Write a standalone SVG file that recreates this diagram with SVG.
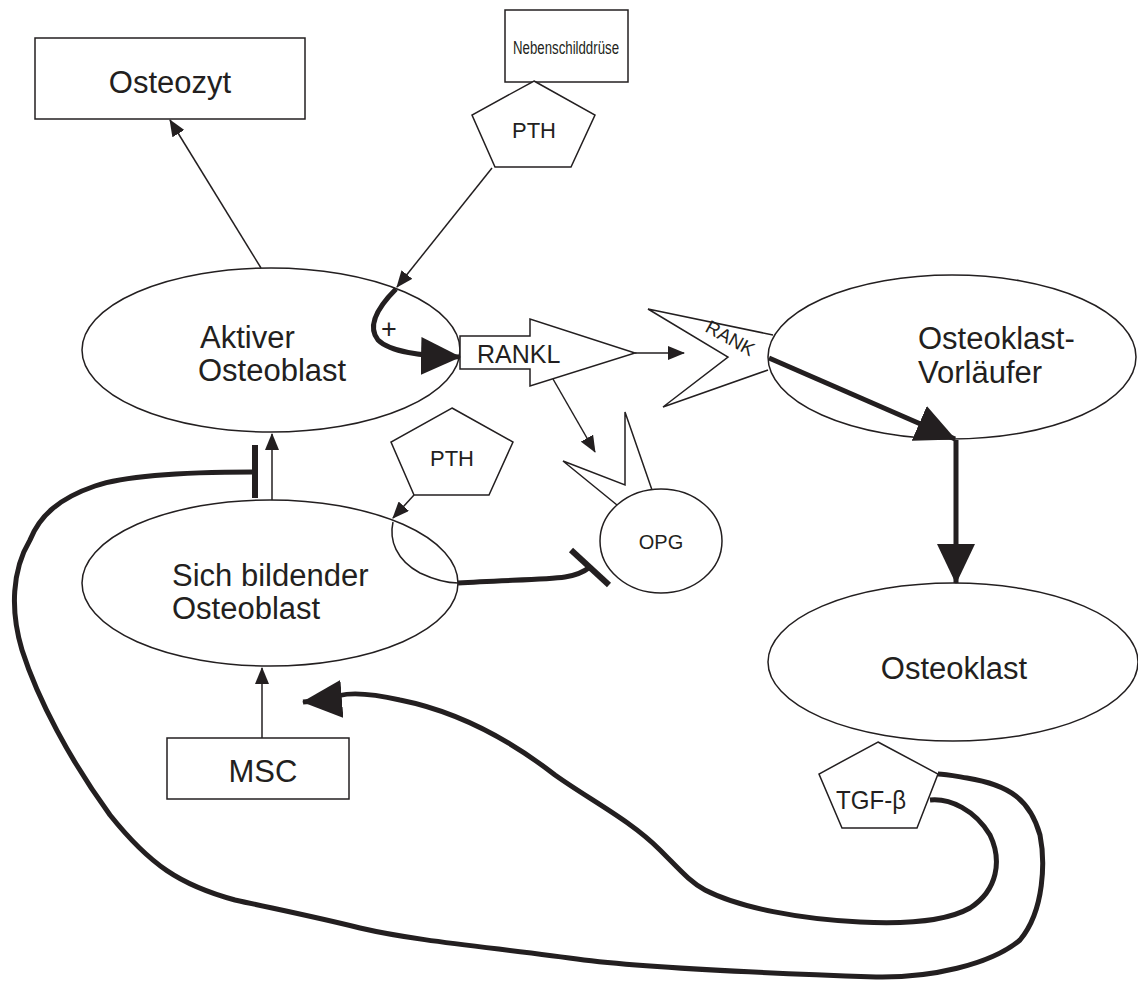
<svg xmlns="http://www.w3.org/2000/svg" width="1138" height="981" viewBox="0 0 1138 981">
<style>
.s{fill:#fff;stroke:#231f20;stroke-width:1.5}
.o{fill:none;stroke:#231f20;stroke-width:1.5}
.t{fill:#231f20;font-family:"Liberation Sans",Arial,sans-serif}
.thin{fill:none;stroke:#231f20;stroke-width:1.5}
.thick{fill:none;stroke:#231f20;stroke-width:5;stroke-linecap:butt}
.bar{stroke:#231f20;stroke-width:6}
</style>
<defs>
<marker id="a" markerUnits="userSpaceOnUse" markerWidth="17" markerHeight="14" refX="16" refY="7" orient="auto"><path d="M0,0 L17,7 L0,14 z" fill="#231f20"/></marker>
<marker id="b" markerUnits="userSpaceOnUse" markerWidth="40" markerHeight="38" refX="39" refY="19" orient="auto"><path d="M0,0 L40,19 L0,38 z" fill="#231f20"/></marker>
</defs>

<g id="osteozyt"><rect class="s" x="35" y="38" width="270" height="81"/><text class="t" x="170" y="93" font-size="31" text-anchor="middle">Osteozyt</text></g>
<g id="nebenschilddruese"><rect class="s" x="505" y="10" width="123" height="72"/><text class="t" x="513" y="54" font-size="18" textLength="106" lengthAdjust="spacingAndGlyphs">Nebenschilddrüse</text></g>
<g id="pth1"><polygon class="s" points="534,81 595,115 571,167 495,167 472,115"/><text class="t" x="534" y="138" font-size="22" text-anchor="middle">PTH</text></g>
<g id="aktiver"><ellipse class="s" cx="271" cy="350" rx="189" ry="82"/><text class="t" font-size="31"><tspan x="200" y="348">Aktiver</tspan><tspan x="198" y="381">Osteoblast</tspan></text></g>
<g id="sich"><ellipse class="s" cx="270" cy="583" rx="188" ry="83"/><path class="o" d="M393,522 C389,540 396,560 420,573 C435,580 448,583 458,583"/><text class="t" font-size="31"><tspan x="172" y="586">Sich bildender</tspan><tspan x="172" y="619">Osteoblast</tspan></text></g>
<g id="pth2"><polygon class="s" points="452,408 513,442 489,495 414,495 391,442"/><text class="t" x="452" y="466" font-size="22" text-anchor="middle">PTH</text></g>
<g id="rankl"><polygon class="s" points="460,336 530,336 530,319 635,353 530,386 530,369 460,369"/><text class="t" x="477" y="363" font-size="25">RANKL</text></g>
<g id="opg"><polyline class="o" points="617,505 563,461 625,485 625,412 652,490"/><ellipse class="s" cx="661" cy="541" rx="61" ry="52"/><text class="t" x="661" y="549" font-size="20" text-anchor="middle">OPG</text></g>
<g id="vorlaeufer"><ellipse class="s" cx="952" cy="357" rx="184" ry="82"/><text class="t" font-size="31"><tspan x="918" y="349">Osteoklast-</tspan><tspan x="918" y="383">Vorläufer</tspan></text></g>
<g id="rank"><polyline class="o" points="773,335 648,309 728,357 663,407 768,370"/><text class="t" font-size="19" transform="translate(704,331) rotate(29)">RANK</text></g>
<g id="osteoklast"><ellipse class="s" cx="953" cy="662" rx="185" ry="79"/><text class="t" x="954" y="679" font-size="31" text-anchor="middle">Osteoklast</text></g>
<g id="msc"><rect class="s" x="167" y="738" width="182" height="61"/><text class="t" x="263" y="782" font-size="31" text-anchor="middle">MSC</text></g>
<g id="tgf"><polygon class="s" points="878,742 938,774 917,828 842,828 819,774"/><text class="t" x="836" y="809" font-size="26" textLength="70" lengthAdjust="spacingAndGlyphs">TGF-β</text></g>

<g id="connectors">
<line class="thin" x1="261" y1="268" x2="170" y2="120" marker-end="url(#a)"/>
<line class="thin" x1="492" y1="168" x2="397" y2="287" marker-end="url(#a)"/>
<path class="thick" d="M396,289 C380,305 366,325 378,340 C390,352 420,356 460,357" marker-end="url(#b)"/>
<text class="t" x="389" y="338" font-size="27" text-anchor="middle">+</text>
<line class="thin" x1="635" y1="353" x2="684" y2="353" marker-end="url(#a)"/>
<line class="thin" x1="553" y1="379" x2="595" y2="452" marker-end="url(#a)"/>
<line class="thick" x1="769" y1="358" x2="955" y2="439" marker-end="url(#b)"/>
<line class="thick" x1="956" y1="440" x2="956" y2="583" marker-end="url(#b)"/>
<line class="thin" x1="272" y1="500" x2="272" y2="434" marker-end="url(#a)"/>
<line class="thin" x1="262" y1="738" x2="262" y2="668" marker-end="url(#a)"/>
<line class="thin" x1="414" y1="495" x2="393" y2="518" marker-end="url(#a)"/>
<path class="thick" d="M458,583 C500,580 545,580 565,577 C578,575 585,571 590,567"/>
<line class="bar" x1="571" y1="550" x2="609" y2="585"/>
<path class="thick" d="M253,472 C200,472 130,474 95,486 C60,498 40,515 30,540 C12,570 10,610 22,650 C38,700 70,760 110,815 C150,865 180,885 235,900 C290,912 320,918 360,928 C420,942 500,948 584,960 C650,968 760,973 876,977 C930,978 990,965 1020,940 C1045,910 1045,860 1040,835 C1030,800 1010,785 967,778 C955,776 945,774 938,774"/>
<line class="bar" x1="255" y1="445" x2="255" y2="498"/>
<path class="thick" d="M930,800 C950,798 975,810 990,835 C1002,860 998,890 970,908 C945,922 900,924 860,922 C800,919 740,908 705,890 C690,882 680,870 660,850 C630,820 590,800 555,775 C510,740 460,712 400,700 C365,692 340,692 328,700 L303,702" marker-end="url(#b)"/>
</g>
</svg>
